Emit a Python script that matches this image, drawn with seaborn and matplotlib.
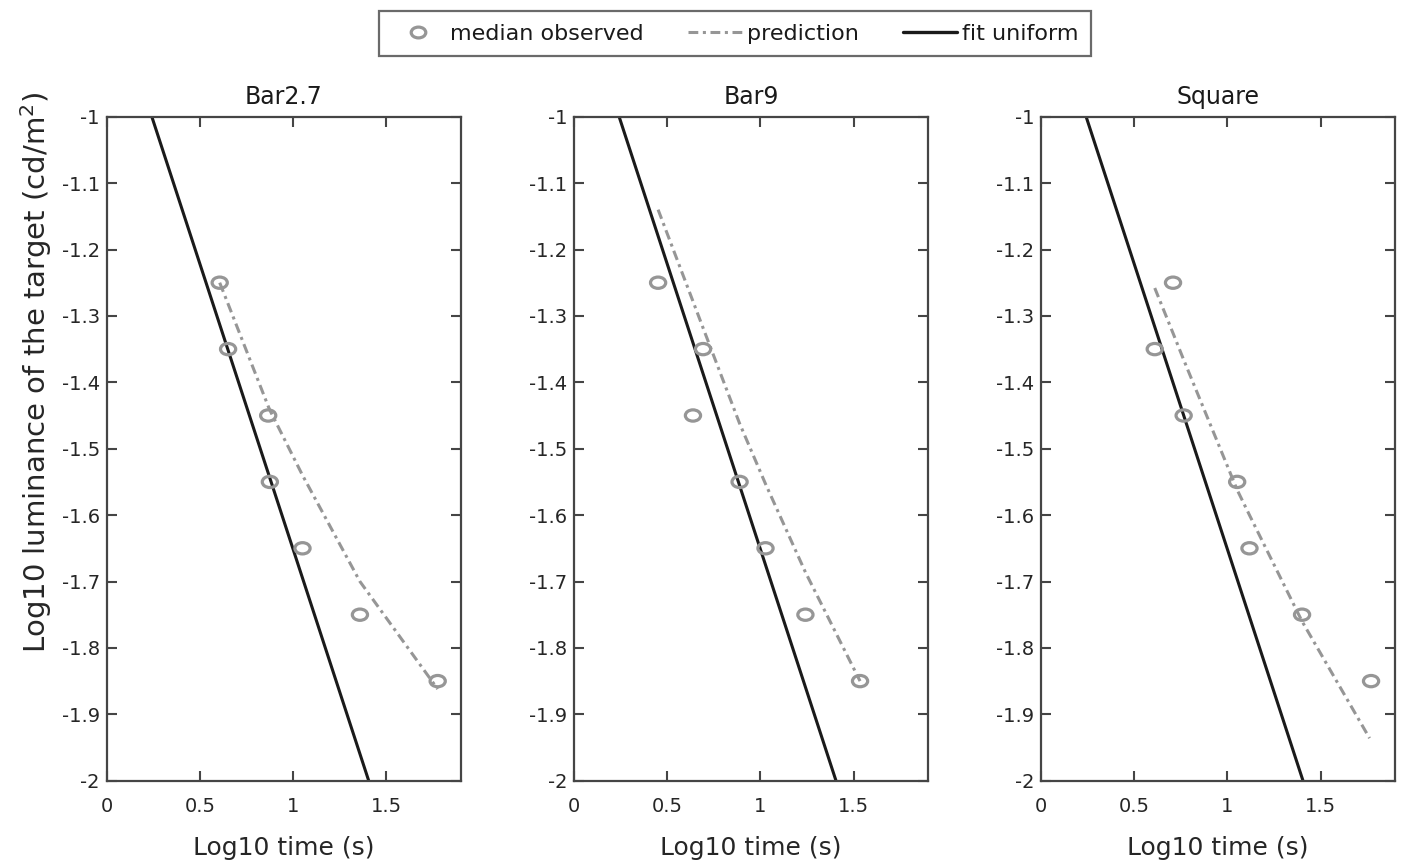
import numpy as np
import pandas as pd
import seaborn as sns
import matplotlib
matplotlib.use("Agg")
import matplotlib.pyplot as plt
from matplotlib.path import Path
from matplotlib.transforms import Affine2D
from matplotlib.lines import Line2D

# ---------------- data ----------------
panels = ["Bar2.7", "Bar9", "Square"]
obs_y = [-1.25, -1.35, -1.45, -1.55, -1.65, -1.75, -1.85]
bar27_obs_x = [0.606, 0.651, 0.866, 0.875, 1.050, 1.358, 1.775]
bar9_obs_x = [0.451, 0.692, 0.638, 0.888, 1.027, 1.241, 1.534]
square_obs_x = [0.708, 0.610, 0.765, 1.052, 1.118, 1.400, 1.770]

bar27_pred_x = [0.606, 0.651, 0.866, 0.875, 1.050, 1.358, 1.775]
bar27_pred_y = [-1.250, -1.282, -1.436, -1.442, -1.540, -1.700, -1.862]
bar9_pred_x = [0.451, 0.638, 0.692, 0.888, 1.027, 1.241, 1.534]
bar9_pred_y = [-1.140, -1.278, -1.318, -1.462, -1.553, -1.686, -1.850]
square_pred_x = [0.610, 0.708, 0.765, 1.052, 1.118, 1.400, 1.762]
square_pred_y = [-1.258, -1.326, -1.366, -1.562, -1.600, -1.760, -1.936]

fit_x = [0.242, 1.405]
fit_y = [-1.0, -2.0]

x_ticks = [0, 0.5, 1, 1.5]
x_tick_labels = ["0", "0.5", "1", "1.5"]
y_ticks = [-1, -1.1, -1.2, -1.3, -1.4, -1.5, -1.6, -1.7, -1.8, -1.9, -2]
y_tick_labels = ["-1", "-1.1", "-1.2", "-1.3", "-1.4", "-1.5", "-1.6", "-1.7", "-1.8", "-1.9", "-2"]

obs_x = {"Bar2.7": bar27_obs_x, "Bar9": bar9_obs_x, "Square": square_obs_x}
pred = {"Bar2.7": (bar27_pred_x, bar27_pred_y),
        "Bar9": (bar9_pred_x, bar9_pred_y),
        "Square": (square_pred_x, square_pred_y)}

# ---------------- style ----------------
sns.set_theme(style="white")
plt.rcParams["font.family"] = ["DejaVu Sans"]
plt.rcParams["axes.unicode_minus"] = False

GRAY = "#969696"
BLACK = "#1a1a1a"
SPINE = "#454545"
TXT = "#262626"
DASHDOT = (0, (3.2, 1.5, 1.0, 1.5))

ellipse = Path.unit_circle().transformed(Affine2D().scale(1.35, 1.0))

fig = plt.figure(figsize=(14.04, 8.61), dpi=100)
lefts = [106.7, 574.0, 1041.0]
W, H = 1404.0, 861.0
ax_w = 354.3
ax_top, ax_bot = 116.7, 780.7

axes = []
for i, name in enumerate(panels):
    ax = fig.add_axes([lefts[i] / W, 1 - ax_bot / H, ax_w / W, (ax_bot - ax_top) / H])
    axes.append(ax)
    sns.lineplot(x=fit_x, y=fit_y, ax=ax, color=BLACK, linewidth=2.2,
                 sort=False, estimator=None)
    px, py = pred[name]
    sns.lineplot(x=px, y=py, ax=ax, color=GRAY, linewidth=2.2, sort=False,
                 estimator=None, linestyle=DASHDOT)
    sns.scatterplot(x=obs_x[name], y=obs_y, ax=ax, marker=ellipse, s=120,
                    facecolor="none", edgecolor=GRAY, linewidth=2.3, zorder=3)
    ax.set_xlim(0, 1.9)
    ax.set_ylim(-2, -1)
    ax.set_xticks(x_ticks)
    ax.set_xticklabels(x_tick_labels)
    ax.set_yticks(y_ticks)
    ax.set_yticklabels(y_tick_labels)
    ax.tick_params(direction="in", length=7, width=1.5, color=SPINE,
                   top=True, right=True, bottom=True, left=True,
                   labelsize=14, labelcolor=TXT)
    ax.tick_params(axis="y", pad=5)
    ax.tick_params(axis="x", pad=12)
    for sp in ax.spines.values():
        sp.set_color(SPINE)
        sp.set_linewidth(1.6)
    ax.set_title(name, fontsize=17, color=BLACK, pad=9)
    ax.set_xlabel("Log10 time (s)", fontsize=18, color=TXT, labelpad=14)

axes[0].set_ylabel("Log10 luminance of the target (cd/m$^2$)", fontsize=21,
                   color=TXT)
axes[0].yaxis.set_label_coords(-0.148, 0.615)

handles = [
    Line2D([], [], linestyle="none", marker=ellipse, markersize=10.5,
           markerfacecolor="none", markeredgecolor=GRAY, markeredgewidth=2.3),
    Line2D([], [], color=GRAY, linewidth=2.2, linestyle=DASHDOT),
    Line2D([], [], color=BLACK, linewidth=2.4),
]
labels = ["median observed", "prediction", "fit uniform"]
leg = fig.legend(handles, labels, ncol=3, loc="center",
                 bbox_to_anchor=(735 / W, 1 - 33.5 / H), frameon=True,
                 fancybox=False, edgecolor=SPINE, fontsize=16,
                 handlelength=2.4, handletextpad=0.25, columnspacing=2.0,
                 borderpad=0.55, borderaxespad=0)
leg.get_frame().set_linewidth(1.6)
for t in leg.get_texts():
    t.set_color(BLACK)

fig.savefig("out.png", dpi=100, facecolor="white")
